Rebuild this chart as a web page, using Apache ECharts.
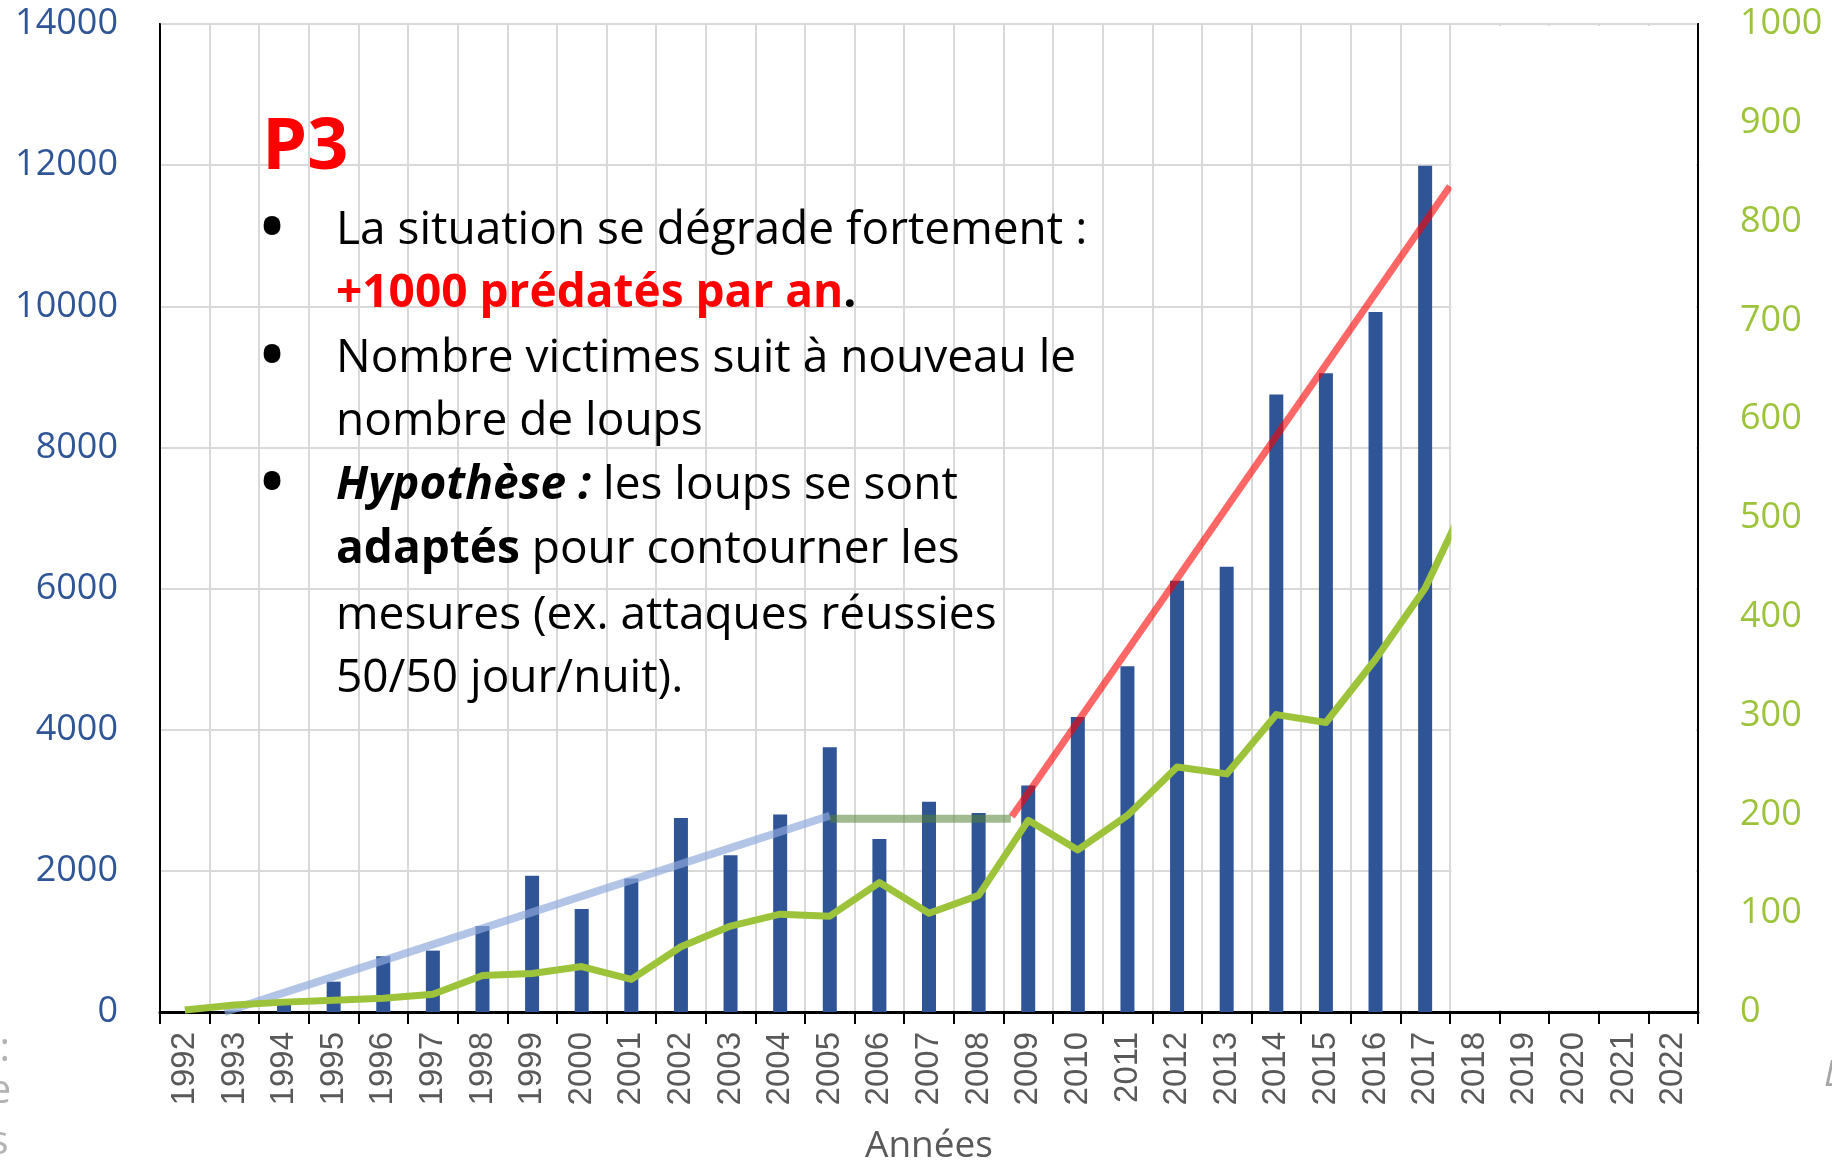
<!DOCTYPE html>
<html>
<head>
<meta charset="utf-8">
<script src="https://cdn.jsdelivr.net/npm/echarts@6/dist/echarts.min.js"></script>
<style>
html,body{margin:0;padding:0;background:#fff;}
#chart{width:1832px;height:1162px;}
</style>
</head>
<body>
<div id="chart"></div>
<script>
// ---- data ----
const years = ['1992','1993','1994','1995','1996','1997','1998','1999','2000','2001','2002','2003','2004','2005','2006','2007','2008','2009','2010','2011','2012','2013','2014','2015','2016','2017','2018','2019','2020','2021','2022'];
const victims = [0, 20, 150, 430, 790, 870, 1220, 1930, 1460, 1890, 2750, 2220, 2800, 3750, 2450, 2980, 2820, 3210, 4180, 4900, 6110, 6310, 8750, 9050, 9920, 11990, 0, 0, 0, 0, 0];
const wolves = [2, 7, 10, 12, 14, 18, 37, 39, 46, 33, 66, 87, 99, 97, 131, 100, 118, 194, 164, 199, 248, 241, 301, 293, 357, 429, 535, null, null, null, null];
const leftTicks = [0, 2000, 4000, 6000, 8000, 10000, 12000, 14000];
const rightTicks = [0, 100, 200, 300, 400, 500, 600, 700, 800, 900, 1000];
// trend lines on a continuous year-position scale (0 = left edge of 1992, 31 = right edge of 2022)
const trendRiseX = [1.3, 13.5];
const trendRiseY = [0, 2780];
const trendFlatX = [13.5, 17.15];
const trendFlatY = [2740, 2740];
const trendRedX = [17.17, 26.0];
const trendRedY = [2770, 11700];

const pairs = (xs, ys) => xs.map((x, i) => [x, ys[i]]);

const chart = echarts.init(document.getElementById('chart'), null, {renderer: 'canvas'});
const bodyFont = '"Open Sans"';
const lines = [
  {y: 231, bullet: true, text: 'La situation se dégrade fortement :'},
  {y: 294, text: '{r|+1000 prédatés par an}{b|.}'},
  {y: 359, bullet: true, text: 'Nombre victimes suit à nouveau le'},
  {y: 422, text: 'nombre de loups'},
  {y: 486, bullet: true, text: '{bi|Hypothèse :} les loups se sont'},
  {y: 550, text: '{b|adaptés} pour contourner les'},
  {y: 616, text: 'mesures (ex. attaques réussies'},
  {y: 679, text: '50/50 jour/nuit).'}
];
const rich = {
  r: {fill: '#ff0000', fontWeight: 'bold', fontSize: 46, fontFamily: bodyFont},
  b: {fill: '#000', fontWeight: 'bold', fontSize: 46, fontFamily: bodyFont},
  bi: {fill: '#000', fontWeight: 'bold', fontStyle: 'italic', fontSize: 46, fontFamily: bodyFont}
};
const graphics = [
  {type: 'text', x: 262, y: 148, z: 100, style: {text: 'P3', fill: '#ff0000', font: 'bold 72px "Open Sans"', textAlign: 'left', textVerticalAlign: 'middle'}}
];
lines.forEach(l => {
  if (l.bullet) graphics.push({type: 'text', x: 272, y: l.y, z: 100, style: {text: '•', fill: '#000', font: 'bold 60px "Open Sans"', textAlign: 'center', textVerticalAlign: 'middle'}});
  graphics.push({type: 'text', x: 336, y: l.y, z: 100, style: {text: l.text, rich: rich, fill: '#000', font: '46px "Open Sans"', textAlign: 'left', textVerticalAlign: 'middle'}});
});
// cut-off slide fragments at the edges
graphics.push({type: 'text', x: 10, y: 1050, style: {text: ':', fill: '#b3b3b3', font: '40px "Open Sans"', textAlign: 'right', textVerticalAlign: 'middle'}});
graphics.push({type: 'text', x: 0, y: 1092, style: {text: 'e', fill: '#b3b3b3', font: '40px "Open Sans"', textAlign: 'center', textVerticalAlign: 'middle'}});
graphics.push({type: 'text', x: -1, y: 1143, style: {text: 's', fill: '#b3b3b3', font: '40px "Open Sans"', textAlign: 'center', textVerticalAlign: 'middle'}});
graphics.push({type: 'text', x: 1824, y: 1076, style: {text: 'L', fill: '#a6a6a6', font: 'italic 36px "Open Sans"', textAlign: 'left', textVerticalAlign: 'middle'}});

const plain = v => String(v);

const option = {
  animation: false,
  backgroundColor: '#fff',
  grid: {left: 160, right: 134, top: 24, bottom: 150, show: true, borderColor: '#000', borderWidth: 2, backgroundColor: 'transparent', containLabel: false, outerBoundsMode: 'none'},
  xAxis: [
    {
      type: 'category', data: years, gridIndex: 0,
      name: 'Années', nameLocation: 'middle', nameGap: 116,
      nameTextStyle: {color: '#595959', fontSize: 37, fontFamily: bodyFont},
      axisLine: {show: true, lineStyle: {color: '#000', width: 3}},
      axisTick: {show: true, interval: 0, length: 12, lineStyle: {color: '#000', width: 2}},
      axisLabel: {interval: 0, rotate: 90, margin: 20, color: '#595959', fontSize: 33, fontFamily: '"Liberation Sans", Arial'},
      splitLine: {show: true, interval: 0, lineStyle: {color: '#d9d9d9', width: 2}}
    },
    {type: 'value', gridIndex: 0, min: 0, max: 31, show: false, splitLine: {show: false}}
  ],
  yAxis: [
    {
      type: 'value', min: leftTicks[0], max: leftTicks[leftTicks.length - 1], interval: leftTicks[1] - leftTicks[0],
      axisLine: {show: true, lineStyle: {color: '#000', width: 2}},
      axisTick: {show: false},
      axisLabel: {color: '#2F5597', fontSize: 36, fontFamily: bodyFont, margin: 42, formatter: plain},
      splitLine: {show: true, lineStyle: {color: '#d9d9d9', width: 2}}
    },
    {
      type: 'value', position: 'right', min: rightTicks[0], max: rightTicks[rightTicks.length - 1], interval: rightTicks[1] - rightTicks[0],
      axisLine: {show: true, lineStyle: {color: '#000', width: 2}},
      axisTick: {show: false},
      axisLabel: {color: '#9DC33B', fontSize: 36, fontFamily: bodyFont, margin: 42, formatter: plain},
      splitLine: {show: false}
    }
  ],
  series: [
    {type: 'bar', name: 'Victimes', xAxisIndex: 0, yAxisIndex: 0, data: victims, barWidth: 14, itemStyle: {color: '#2F5597'}, z: 2},
    {type: 'line', name: 'Tendance 1', xAxisIndex: 1, yAxisIndex: 0, data: pairs(trendRiseX, trendRiseY), symbol: 'none', lineStyle: {color: 'rgba(143,170,220,0.68)', width: 8}, z: 3},
    {type: 'line', name: 'Plateau', xAxisIndex: 1, yAxisIndex: 0, data: pairs(trendFlatX, trendFlatY), symbol: 'none', lineStyle: {color: 'rgba(84,130,53,0.55)', width: 8}, z: 3},
    {type: 'line', name: 'Tendance 3', xAxisIndex: 1, yAxisIndex: 0, data: pairs(trendRedX, trendRedY), symbol: 'none', lineStyle: {color: 'rgba(255,0,0,0.6)', width: 7}, z: 3},
    {type: 'line', name: 'Loups', xAxisIndex: 0, yAxisIndex: 1, data: wolves, symbol: 'none', connectNulls: false, lineStyle: {color: '#9DC33B', width: 7, join: 'round'}, z: 4},
    {
      type: 'custom', name: 'mask', xAxisIndex: 1, yAxisIndex: 0, silent: true, z: 10, clip: false,
      data: [[26.03, 30, 30.96, 13970]],
      renderItem: function (params, api) {
        const p1 = api.coord([api.value(0), api.value(3)]);
        const p2 = api.coord([api.value(2), api.value(1)]);
        return {type: 'rect', shape: {x: p1[0], y: p1[1], width: p2[0] - p1[0], height: p2[1] - p1[1]}, style: {fill: '#fff'}};
      }
    }
  ],
  graphic: graphics
};
chart.setOption(option);
</script>
</body>
</html>
